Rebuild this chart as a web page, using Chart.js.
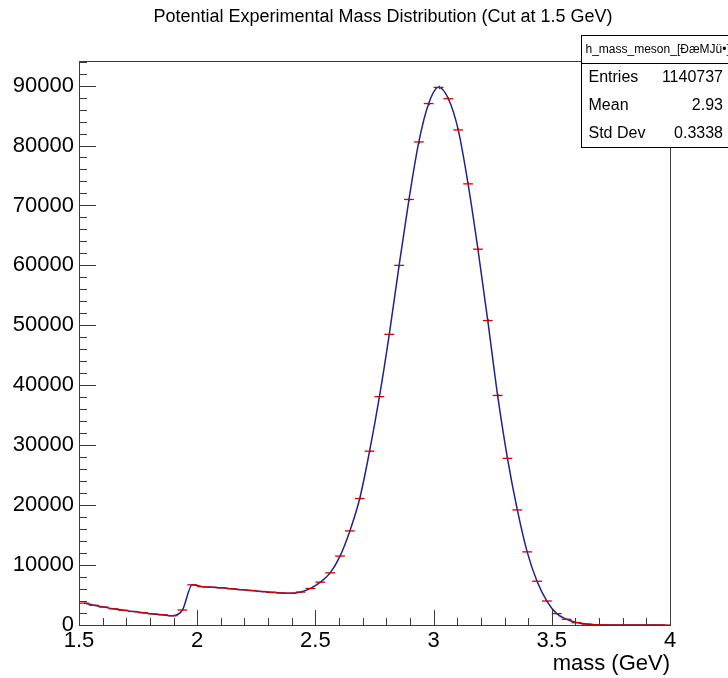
<!DOCTYPE html>
<html>
<head>
<meta charset="utf-8">
<script src="https://cdn.jsdelivr.net/npm/chart.js@4.4.1/dist/chart.umd.min.js"></script>
<style>
  html, body { margin: 0; padding: 0; background: #fff; }
  #wrap { width: 728px; height: 678px; position: relative; }
</style>
</head>
<body>
<div id="wrap"><canvas id="massChart"></canvas></div>
<script>
// histogram binning: 60 bins between 1.5 and 4 GeV
const xMin = 1.5;
const xMax = 4;
const nBins = 60;

// bin contents
const binCounts = [
  3650, 3300, 3000, 2700, 2450, 2250, 2050, 1850, 1700, 1550,
  2500, 6700, 6400, 6300, 6200, 6050, 5900, 5750, 5600, 5450,
  5350, 5300, 5500, 6100, 7150, 8700, 11500, 15700, 21100, 29000,
  38100, 48500, 60000, 71000, 80600, 87000, 89700, 87800, 82600, 73600,
  62700, 50800, 38300, 27800, 19200, 12200, 7300, 4000, 1900, 950,
  400, 150, 50, 10, 0, 0, 0, 0, 0, 0
];

const xTicks = [1.5, 2, 2.5, 3, 3.5, 4];
const yTicks = [0, 10000, 20000, 30000, 40000, 50000, 60000, 70000, 80000, 90000];
const yMax = 94100;

const chartTitle = 'Potential Experimental Mass Distribution (Cut at 1.5 GeV)';
const statsTitle = 'h_mass_meson_[ĐæMJü•]';
const statsLabels = ['Entries', 'Mean', 'Std Dev'];
const statsValues = ['1140737', '2.93', '0.3338'];

const fontFamily = "'Liberation Sans', Arial, Helvetica, sans-serif";
const binWidth = (xMax - xMin) / nBins;

// build points at bin centres
const histPoints = binCounts.map((c, i) => ({ x: xMin + binWidth * (i + 0.5), y: c }));

// ROOT-like frame, inward tick marks, error bars, title and the stats box
const rootFrame = {
  id: 'rootFrame',
  afterDatasetsDraw(chart) {
    const ctx = chart.ctx;
    const xs = chart.scales.x;
    const ys = chart.scales.y;
    const a = chart.chartArea;

    // vertical error bars sqrt(N)
    ctx.save();
    ctx.strokeStyle = '#d40000';
    ctx.lineWidth = 1;
    histPoints.forEach(p => {
      if (p.y <= 0) return;
      const e = Math.sqrt(p.y);
      const px = Math.round(xs.getPixelForValue(p.x)) + 0.5;
      ctx.beginPath();
      ctx.moveTo(px, ys.getPixelForValue(p.y - e));
      ctx.lineTo(px, ys.getPixelForValue(p.y + e));
      ctx.stroke();
    });
    ctx.restore();

    ctx.save();
    ctx.strokeStyle = '#3a3a3a';
    ctx.lineWidth = 1;
    ctx.strokeRect(Math.round(a.left) + 0.5, Math.round(a.top) + 0.5,
      Math.round(a.right - a.left), Math.round(a.bottom - a.top));

    ctx.beginPath();
    // x ticks every 0.1, major every 0.5
    for (let k = 0; k <= 25; k++) {
      const v = xMin + k * 0.1;
      const px = Math.round(xs.getPixelForValue(v)) + 0.5;
      const len = (k % 5 === 0) ? 15 : 7;
      ctx.moveTo(px, a.bottom);
      ctx.lineTo(px, a.bottom - len);
    }
    // y ticks every 2000, major every 10000
    for (let v = 0; v <= yMax; v += 2000) {
      const py = Math.round(ys.getPixelForValue(v)) + 0.5;
      const len = (v % 10000 === 0) ? 17 : 8;
      ctx.moveTo(a.left, py);
      ctx.lineTo(a.left + len, py);
    }
    ctx.stroke();
    ctx.restore();

    // title, ROOT puts it off-centre
    ctx.save();
    ctx.fillStyle = '#000';
    ctx.font = '18px ' + fontFamily;
    ctx.textAlign = 'center';
    ctx.textBaseline = 'middle';
    ctx.fillText(chartTitle, 383, 17);
    ctx.restore();

    // stats box
    const bx = 581.5, by = 35.5, bw = 150, rowH = 28;
    ctx.save();
    ctx.fillStyle = '#ffffff';
    ctx.fillRect(bx, by, bw, rowH * 4);
    ctx.strokeStyle = '#000';
    ctx.lineWidth = 1;
    ctx.strokeRect(bx, by, bw, rowH * 4);
    ctx.beginPath();
    ctx.moveTo(bx, by + rowH);
    ctx.lineTo(bx + bw, by + rowH);
    ctx.stroke();

    ctx.fillStyle = '#000';
    ctx.textBaseline = 'middle';
    ctx.font = '12px ' + fontFamily;
    ctx.textAlign = 'left';
    ctx.fillText(statsTitle, bx + 4, by + rowH / 2);

    ctx.font = '16px ' + fontFamily;
    statsLabels.forEach((lab, i) => {
      const cy = by + rowH * (i + 1) + rowH / 2;
      ctx.textAlign = 'left';
      ctx.fillText(lab, bx + 7, cy);
      ctx.textAlign = 'right';
      ctx.fillText(statsValues[i], 723, cy);
    });
    ctx.restore();
  }
};

function initMassChart() {
  const ctx = document.getElementById('massChart').getContext('2d');

  new Chart(ctx, {
    type: 'line',
    data: {
      datasets: [
        {
          label: 'Fit',
          data: histPoints,
          borderColor: '#22228c',
          borderWidth: 1.5,
          pointRadius: 0,
          cubicInterpolationMode: 'monotone',
          fill: false,
          order: 2
        },
        {
          label: 'h_mass_meson',
          data: histPoints,
          showLine: false,
          pointStyle: 'line',
          pointRadius: binWidth * 236 / 2,
          pointBorderColor: '#d40000',
          pointBorderWidth: 1.3,
          pointBackgroundColor: '#d40000',
          order: 1
        }
      ]
    },
    options: {
      responsive: true,
      maintainAspectRatio: false,
      animation: false,
      events: [],
      layout: {
        padding: { left: 0, right: 58, top: 61, bottom: 0 }
      },
      plugins: {
        legend: { display: false },
        tooltip: { enabled: false },
        title: { display: false }
      },
      scales: {
        x: {
          type: 'linear',
          min: xMin,
          max: xMax,
          grid: { display: false, drawTicks: false },
          border: { display: false },
          afterBuildTicks: function(scale) {
            scale.ticks = xTicks.map(v => ({ value: v }));
          },
          ticks: {
            color: '#000',
            padding: 3,
            maxRotation: 0,
            autoSkip: false,
            font: { family: fontFamily, size: 22 },
            callback: function(value) { return String(value); }
          },
          title: {
            display: true,
            text: 'mass (GeV)',
            align: 'end',
            color: '#000',
            font: { family: fontFamily, size: 22 },
            padding: { top: 0, bottom: 1 }
          },
          afterFit: function(scale) { scale.height = 53; }
        },
        y: {
          type: 'linear',
          min: 0,
          max: yMax,
          grid: { display: false, drawTicks: false },
          border: { display: false },
          afterBuildTicks: function(scale) {
            scale.ticks = yTicks.map(v => ({ value: v }));
          },
          ticks: {
            color: '#000',
            padding: 5,
            autoSkip: false,
            font: { family: fontFamily, size: 22 },
            callback: function(value) { return String(value); }
          },
          afterFit: function(scale) { scale.width = 79; }
        }
      }
    },
    plugins: [rootFrame]
  });
}

initMassChart();
</script>
</body>
</html>
